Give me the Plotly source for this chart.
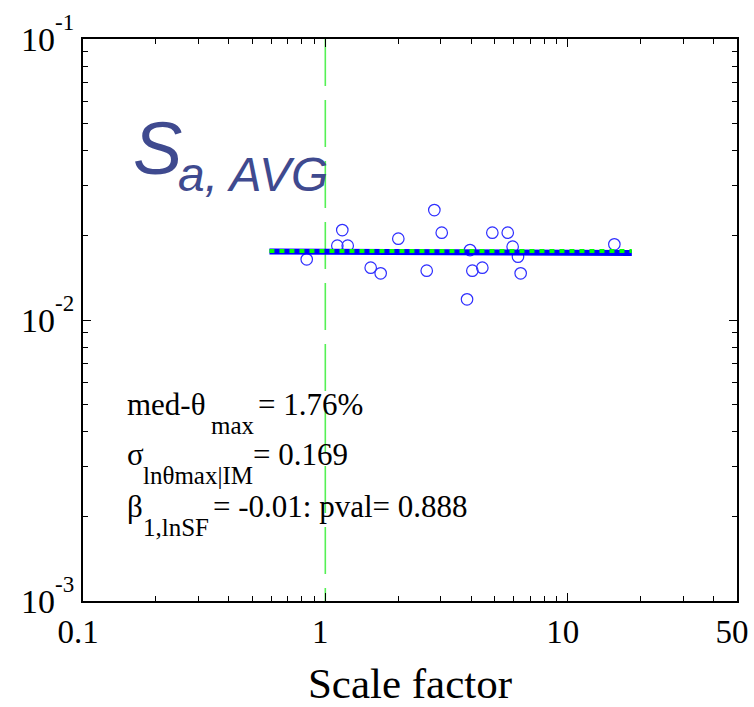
import plotly.graph_objects as go

# ---- data ----
scale_factor = [0.838, 1.175, 1.121, 1.237, 2.001, 1.539, 1.692, 2.818, 3.023, 2.621,
                3.956, 4.044, 4.446, 3.845, 4.89, 5.66, 5.93, 6.24, 6.40, 15.59]
theta_max = [0.01644, 0.0209, 0.01838, 0.01838, 0.01947, 0.01535, 0.01466, 0.02462, 0.02045, 0.01498,
             0.01774, 0.01498, 0.01535, 0.01185, 0.02045, 0.02045, 0.01824, 0.01680, 0.01466, 0.01859]
fit_x = [0.588, 18.4]
fit_y = [0.01753, 0.01731]
median_x = [0.588, 18.4]
median_y = [0.0176, 0.0176]
ref_sf_x = [1, 1]
ref_sf_y = [0.001, 0.1]

x_ticks = [0.1, 1, 10, 50]
x_ticktext = ["0.1", "1", "10", "50"]
x_minor = [0.2, 0.3, 0.4, 0.5, 0.6, 0.7, 0.8, 0.9, 2, 3, 4, 5, 6, 7, 8, 9, 20, 30, 40]
y_ticks = [0.001, 0.01, 0.1]
y_exponents = ["-3", "-2", "-1"]
y_minor = [0.002, 0.003, 0.004, 0.005, 0.006, 0.007, 0.008, 0.009,
           0.02, 0.03, 0.04, 0.05, 0.06, 0.07, 0.08, 0.09]

W, H = 754, 707
L, R, T, B = 83, 17, 39, 106
PW, PH = W - L - R, H - T - B

def px(x):
    return (x - L) / PW

def py(y):
    return (H - B - y) / PH

SERIF = "Liberation Serif"
SANS = "Liberation Sans"
TITLE_COL = "#3F4A8F"

y_ticktext = [f"10<span style='font-size:23px;baseline-shift:21px'>{e}</span>" for e in y_exponents]

fig = go.Figure()
fig.add_trace(go.Scatter(x=ref_sf_x[::-1], y=ref_sf_y[::-1], mode="lines",
                         line=dict(color="#55F055", width=1.6, dash="47px,14px"),
                         showlegend=False, hoverinfo="skip"))
fig.add_trace(go.Scatter(x=scale_factor, y=theta_max, mode="markers",
                         marker=dict(symbol="circle-open", size=11.5, color="#2E2EFF",
                                     line=dict(width=1.2, color="#2E2EFF")),
                         showlegend=False))
fig.add_trace(go.Scatter(x=fit_x, y=fit_y, mode="lines",
                         line=dict(color="#0000FF", width=6), showlegend=False))
fig.add_trace(go.Scatter(x=median_x, y=median_y, mode="lines",
                         line=dict(color="#00FF00", width=4, dash="5px,5px"), showlegend=False))

annos = []
def add_text(text, left, baseline, size, family, color="black", italic=False):
    bottom = baseline + 0.215 * size + 1
    t = f"<i>{text}</i>" if italic else text
    annos.append(dict(text=t, x=px(left), y=py(bottom), xref="paper", yref="paper",
                      xanchor="left", yanchor="bottom", showarrow=False,
                      font=dict(size=size, family=family, color=color)))

add_text("S", 131, 175, 74, SANS, TITLE_COL, True)
add_text("a, AVG", 176, 192, 48, SANS, TITLE_COL, True)

add_text("med-θ", 125, 416.7, 31, SERIF)
add_text("max", 209, 434.5, 25, SERIF)
add_text("= 1.76%", 256, 416.7, 31, SERIF)
add_text("σ", 125, 466.7, 31, SERIF)
add_text("lnθmax|IM", 141, 485, 25, SERIF)
add_text("= 0.169", 251, 466.7, 31, SERIF)
add_text("β", 125, 518.3, 31, SERIF)
add_text("1,lnSF", 141, 536.7, 25, SERIF)
add_text("= -0.01: pval= 0.888", 211, 518.3, 31, SERIF)

fig.update_layout(
    width=W, height=H, margin=dict(l=L, r=R, t=T, b=B, autoexpand=False),
    paper_bgcolor="white", plot_bgcolor="white",
    annotations=annos,
    xaxis=dict(type="log", range=[-1, 1.69897], tickvals=x_ticks, ticktext=x_ticktext,
               ticks="inside", ticklen=8, tickwidth=1, tickcolor="black",
               showline=True, linewidth=2, linecolor="black", mirror="ticks",
               showgrid=False, zeroline=False, automargin=False, ticklabelshift=-5,
               minor=dict(tickvals=x_minor, ticks="inside", ticklen=5, tickwidth=1,
                          tickcolor="black", showgrid=False),
               tickfont=dict(family=SERIF, size=33, color="black"),
               title=dict(text="Scale factor", font=dict(family=SERIF, size=43, color="black"),
                          standoff=22)),
    yaxis=dict(type="log", range=[-3, -1], tickvals=y_ticks, ticktext=y_ticktext,
               ticks="inside", ticklen=8, tickwidth=1, tickcolor="black",
               showline=True, linewidth=2, linecolor="black", mirror="ticks",
               showgrid=False, zeroline=False, automargin=False,
               minor=dict(tickvals=y_minor, ticks="inside", ticklen=5, tickwidth=1,
                          tickcolor="black", showgrid=False),
               tickfont=dict(family=SERIF, size=34, color="black")),
)

fig.write_html("out.html")
